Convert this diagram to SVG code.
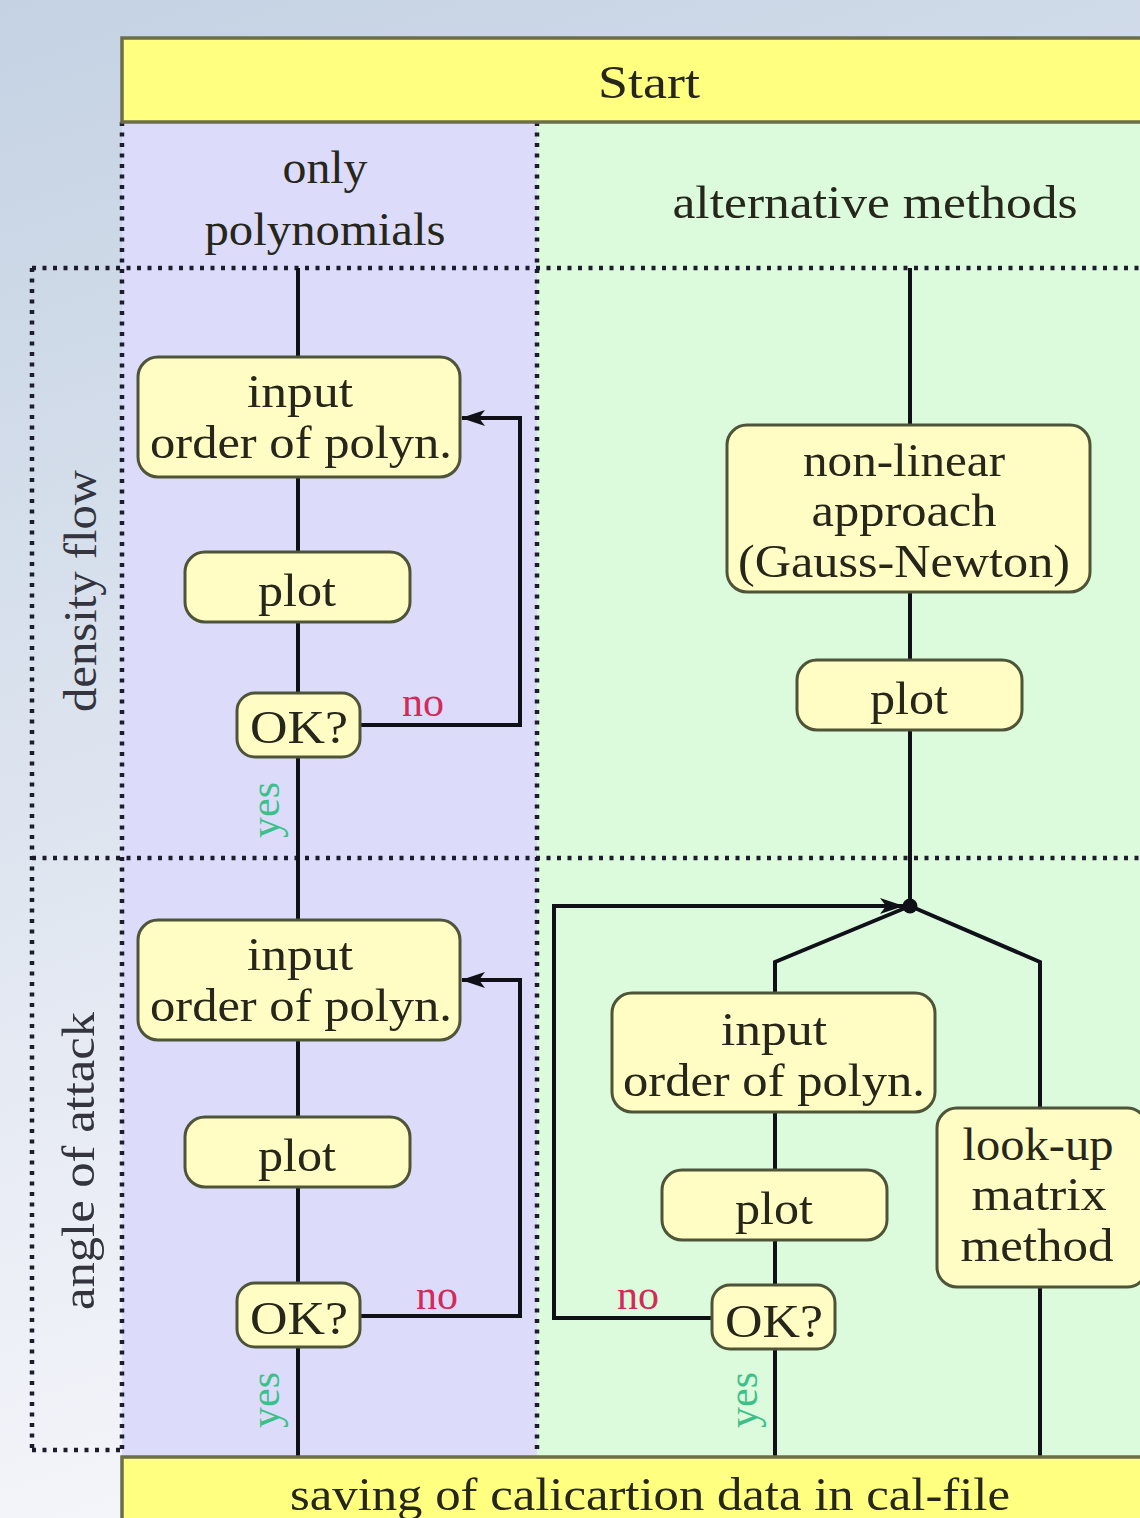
<svg xmlns="http://www.w3.org/2000/svg" width="1140" height="1518" viewBox="0 0 1140 1518">
<defs>
<linearGradient id="bg" x1="0" y1="0" x2="0.25" y2="1">
<stop offset="0" stop-color="#c4d2e3"/>
<stop offset="1" stop-color="#f6f6fb"/>
</linearGradient>
<marker id="arr" viewBox="0 0 24 16" refX="23" refY="8" markerWidth="24" markerHeight="16" markerUnits="userSpaceOnUse" orient="auto">
<path d="M0,0 L24,8 L0,16 L6,8 Z" fill="#101018"/>
</marker>
<style>
text{font-family:"Liberation Serif","DejaVu Serif",serif;fill:#26261a;text-anchor:middle}
.t{font-size:47px}
.bar{fill:#ffff80;stroke:#6c6e48;stroke-width:3.5}
.node{fill:#fffcc4;stroke:#4e5438;stroke-width:3}
.dot{fill:none;stroke:#1c1c2c;stroke-width:4.5;stroke-dasharray:4 6.5}
.ln{fill:none;stroke:#101018;stroke-width:4}
.no{fill:#d42a5a;font-size:42px}
.yes{fill:#3cc08a;font-size:42px}
.row{fill:#34343e;font-size:46px}
</style>
</defs>
<rect width="1140" height="1518" fill="url(#bg)"/>
<rect x="122" y="122" width="415" height="1336" fill="#dcdcfa"/>
<rect x="537" y="122" width="610" height="1336" fill="#dcfadc"/>

<g id="lanes">
<path class="dot" d="M122,122 V1452"/>
<path class="dot" d="M537,122 V1450"/>
<path class="dot" d="M32,268 H1140"/>
<path class="dot" d="M32,858 H1140"/>
<path class="dot" d="M32,1450 H122"/>
<path class="dot" d="M32,268 V1450"/>
<text class="t" x="325" y="183" textLength="85" lengthAdjust="spacingAndGlyphs">only</text>
<text class="t" x="325" y="245" textLength="241" lengthAdjust="spacingAndGlyphs">polynomials</text>
<text class="t" x="875" y="218" textLength="405" lengthAdjust="spacingAndGlyphs">alternative methods</text>
<text class="row" transform="translate(96,591) rotate(-90)" textLength="242" lengthAdjust="spacingAndGlyphs">density flow</text>
<text class="row" transform="translate(94,1161) rotate(-90)" textLength="298" lengthAdjust="spacingAndGlyphs">angle of attack</text>
</g>

<g id="connectors">
<path class="ln" d="M298,268 V1458"/>
<path class="ln" d="M360,725 H520 V418 H462" marker-end="url(#arr)"/>
<path class="ln" d="M360,1316 H520 V980 H462" marker-end="url(#arr)"/>
<path class="ln" d="M910,268 V906"/>
<path class="ln" d="M910,906 L775,962 V1458"/>
<path class="ln" d="M910,906 L1040,962 V1458"/>
<path class="ln" d="M712,1318 H554 V906 H903" marker-end="url(#arr)"/>
<circle cx="910" cy="906" r="7.5" fill="#101018"/>
<text class="no" x="423" y="716">no</text>
<text class="no" x="437" y="1309">no</text>
<text class="no" x="638" y="1309">no</text>
<text class="yes" transform="translate(279,810) rotate(-90)">yes</text>
<text class="yes" transform="translate(279,1400) rotate(-90)">yes</text>
<text class="yes" transform="translate(757,1400) rotate(-90)">yes</text>
</g>

<g id="start">
<rect class="bar" x="122" y="38" width="1030" height="84"/>
<text class="t" x="649" y="98" textLength="102" lengthAdjust="spacingAndGlyphs">Start</text>
</g>

<g id="input1">
<rect class="node" x="138" y="357" width="322" height="120" rx="20"/>
<text class="t" x="300" y="407" textLength="106" lengthAdjust="spacingAndGlyphs">input</text>
<text class="t" x="301" y="458" textLength="302" lengthAdjust="spacingAndGlyphs">order of polyn.</text>
</g>
<g id="plot1">
<rect class="node" x="185" y="552" width="225" height="70" rx="20"/>
<text class="t" x="297" y="606" textLength="78" lengthAdjust="spacingAndGlyphs">plot</text>
</g>
<g id="ok1">
<rect class="node" x="237" y="693" width="123" height="64" rx="18"/>
<text class="t" x="299" y="743" textLength="98" lengthAdjust="spacingAndGlyphs">OK?</text>
</g>

<g id="input2">
<rect class="node" x="138" y="920" width="322" height="120" rx="20"/>
<text class="t" x="300" y="970" textLength="106" lengthAdjust="spacingAndGlyphs">input</text>
<text class="t" x="301" y="1021" textLength="302" lengthAdjust="spacingAndGlyphs">order of polyn.</text>
</g>
<g id="plot2">
<rect class="node" x="185" y="1117" width="225" height="70" rx="20"/>
<text class="t" x="297" y="1171" textLength="78" lengthAdjust="spacingAndGlyphs">plot</text>
</g>
<g id="ok2">
<rect class="node" x="237" y="1283" width="123" height="64" rx="18"/>
<text class="t" x="299" y="1334" textLength="98" lengthAdjust="spacingAndGlyphs">OK?</text>
</g>

<g id="gauss">
<rect class="node" x="727" y="425" width="363" height="167" rx="20"/>
<text class="t" x="904" y="476" textLength="202" lengthAdjust="spacingAndGlyphs">non-linear</text>
<text class="t" x="904" y="526" textLength="185" lengthAdjust="spacingAndGlyphs">approach</text>
<text class="t" x="904" y="577" textLength="332" lengthAdjust="spacingAndGlyphs">(Gauss-Newton)</text>
</g>
<g id="plot3">
<rect class="node" x="797" y="660" width="225" height="70" rx="20"/>
<text class="t" x="909" y="714" textLength="78" lengthAdjust="spacingAndGlyphs">plot</text>
</g>

<g id="input3">
<rect class="node" x="612" y="993" width="323" height="119" rx="20"/>
<text class="t" x="774" y="1045" textLength="106" lengthAdjust="spacingAndGlyphs">input</text>
<text class="t" x="774" y="1096" textLength="302" lengthAdjust="spacingAndGlyphs">order of polyn.</text>
</g>
<g id="plot4">
<rect class="node" x="662" y="1170" width="225" height="70" rx="20"/>
<text class="t" x="774" y="1224" textLength="78" lengthAdjust="spacingAndGlyphs">plot</text>
</g>
<g id="ok3">
<rect class="node" x="712" y="1285" width="123" height="64" rx="18"/>
<text class="t" x="774" y="1337" textLength="98" lengthAdjust="spacingAndGlyphs">OK?</text>
</g>

<g id="lookup">
<rect class="node" x="937" y="1108" width="210" height="179" rx="20"/>
<text class="t" x="1038" y="1160" textLength="151" lengthAdjust="spacingAndGlyphs">look-up</text>
<text class="t" x="1039" y="1210" textLength="135" lengthAdjust="spacingAndGlyphs">matrix</text>
<text class="t" x="1037" y="1261" textLength="153" lengthAdjust="spacingAndGlyphs">method</text>
</g>

<g id="saving">
<rect class="bar" x="122" y="1457" width="1030" height="70"/>
<text class="t" x="650" y="1510" textLength="720" lengthAdjust="spacingAndGlyphs">saving of calicartion data in cal-file</text>
</g>
</svg>
